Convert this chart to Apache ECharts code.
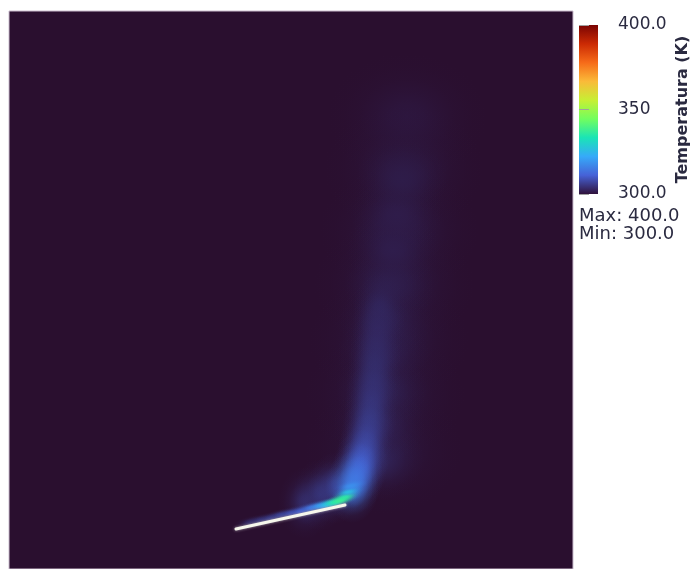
<!DOCTYPE html>
<html>
<head>
<meta charset="utf-8">
<script src="https://cdn.jsdelivr.net/npm/echarts@6/dist/echarts.min.js"></script>
<style>
html, body { margin: 0; padding: 0; background: #fff; }
#main { width: 696px; height: 569px; }
</style>
</head>
<body>
<div id="main"></div>
<script>
// domain size (x right, y up)
const domainSize = [564, 558]

// heated wire
const wireLine = [[227, 40], [336, 64]]

// temperature samples [x, y, T(K)]
// wide faint envelope of the plume
const envelopeTemp = [
  [398, 452, 301.0], [395, 400, 301.2], [390, 339, 301.3], [385, 284, 301.3],
  [380, 229, 301.3], [376, 174, 301.3], [374, 119, 301.2]
]
// inner lighter region
const middleTemp = [
  [369, 109, 302.8], [370, 144, 302.6], [372, 179, 302.4], [374, 214, 302.2],
  [377, 249, 302.1], [380, 284, 302.0], [384, 319, 301.9], [388, 354, 301.8],
  [393, 389, 301.7]
]
// blue core rising from the wire end
const coreTemp = [
  [371, 260, 302.9], [369, 242, 303.1], [367.5, 224, 303.4], [366, 206, 303.7],
  [364.5, 188, 304.1], [363, 170, 304.6], [361, 152, 305.3], [358.5, 134, 306.2],
  [355.5, 118, 307.5], [296, 66, 303.8], [311, 74, 304.5], [326, 81, 306],
  [352, 104, 310], [347.5, 92, 313], [343, 82, 315]
]
// hot film over the wire
const hotTemp = [
  [241, 47, 303.5], [251, 49, 304.5], [261, 51, 305.5], [271, 54, 306.5],
  [281, 56, 308], [291, 58, 310], [301, 61, 313], [309, 63, 317],
  [316, 64, 322], [322, 66, 328], [327, 67, 334], [332, 69, 338],
  [336, 72, 336], [339, 77, 326], [342, 83, 318]
]

const tempRange = [300, 400]
const tempTicks = [300, 350, 400]
const statLines = ['Max: 400.0', 'Min: 300.0']

// turbo colormap
const turbo = ['#30123b', '#4662d7', '#36aaf9', '#1ae4b6', '#72fe5e',
  '#c7ef34', '#faba39', '#f66b19', '#cb2a04', '#7a0403']
const fieldBg = '#2a0f2f'
const fieldColors = [fieldBg].concat(turbo.slice(1))
const textColor = '#2a2a40'
const font = 'DejaVu Sans'

// blob radius (data units) and tilt for each sample layer
const wireTilt = Math.atan2(wireLine[1][1] - wireLine[0][1], wireLine[1][0] - wireLine[0][0])
const layers = [
  { data: envelopeTemp, r: [80, 64], tilt: 0 },
  { data: middleTemp, r: [46, 40], tilt: 0 },
  { data: coreTemp, r: [27, 36], tilt: 0 },
  { data: hotTemp, r: [17, 6], tilt: wireTilt }
]

// gaussian-ish falloff of each blob
const falloff = [[0, 1], [0.2, 0.84], [0.4, 0.49], [0.6, 0.2], [0.8, 0.06], [1, 0]]

const modifyAlpha = echarts.color.modifyAlpha

// a round blob stretched into an ellipse (gradient stays round before scaling)
function blob(r, tilt) {
  return function (params, api) {
    const c = api.coord([api.value(0), api.value(1)])
    const s = api.size(r)
    const col = api.visual('color')
    return {
      type: 'circle',
      silent: true,
      x: c[0],
      y: c[1],
      scaleY: s[1] / s[0],
      rotation: tilt,
      shape: { cx: 0, cy: 0, r: s[0] },
      style: {
        fill: new echarts.graphic.RadialGradient(0.5, 0.5, 0.5,
          falloff.map(f => ({ offset: f[0], color: modifyAlpha(col, f[1]) })))
      }
    }
  }
}

const chart = echarts.init(document.getElementById('main'), null, { renderer: 'canvas' })

const barStops = turbo.map((c, i) => ({ offset: 1 - i / (turbo.length - 1), color: c }))

chart.setOption({
  animation: false,
  backgroundColor: '#fff',
  grid: [{
    left: 9, top: 11, width: 564, height: 558,
    show: true,
    backgroundColor: fieldBg,
    borderColor: '#cbbdcf',
    borderWidth: 1
  }, {
    // colorbar
    left: 579, top: 25, width: 19, height: 169,
    show: true,
    borderWidth: 0,
    backgroundColor: new echarts.graphic.LinearGradient(0, 0, 0, 1, barStops)
  }],
  xAxis: [
    { gridIndex: 0, type: 'value', show: false, min: 0, max: domainSize[0] },
    { gridIndex: 1, type: 'value', show: false, min: 0, max: 1 }
  ],
  yAxis: [
    { gridIndex: 0, type: 'value', show: false, min: 0, max: domainSize[1] },
    {
      gridIndex: 1,
      type: 'value',
      position: 'right',
      min: tempRange[0],
      max: tempRange[1],
      interval: tempTicks[1] - tempTicks[0],
      axisLine: { show: false },
      axisTick: { show: true, length: 10, lineStyle: { color: '#a0a0a0', width: 1 } },
      splitLine: { show: false },
      axisLabel: {
        margin: 20,
        color: textColor,
        fontSize: 17,
        fontFamily: font,
        formatter: v => (v === tempTicks[1] ? String(v) : v.toFixed(1))
      },
      name: 'Temperatura (K)',
      nameLocation: 'middle',
      nameRotate: 90,
      nameGap: 77,
      nameTextStyle: { color: textColor, fontSize: 16, fontWeight: 'bold', fontFamily: font }
    }
  ],
  visualMap: {
    type: 'continuous',
    show: false,
    seriesIndex: [0, 1, 2, 3],
    dimension: 2,
    min: tempRange[0],
    max: tempRange[1],
    inRange: { color: fieldColors }
  },
  graphic: statLines.map((t, i) => ({
    type: 'text',
    x: 579,
    y: 216 + i * 18.5,
    silent: true,
    style: { text: t, fill: textColor, font: '18px ' + font, textVerticalAlign: 'middle', textAlign: 'left' }
  })),
  series: layers.map(l => ({
    type: 'custom',
    xAxisIndex: 0,
    yAxisIndex: 0,
    silent: true,
    encode: { x: 0, y: 1 },
    renderItem: blob(l.r, l.tilt),
    data: l.data
  })).concat([{
    type: 'line',
    xAxisIndex: 0,
    yAxisIndex: 0,
    silent: true,
    symbol: 'none',
    z: 5,
    lineStyle: { color: '#f6f7ec', width: 3, cap: 'round', shadowBlur: 3, shadowColor: 'rgba(255,255,255,0.6)' },
    data: wireLine
  }])
})
</script>
</body>
</html>
